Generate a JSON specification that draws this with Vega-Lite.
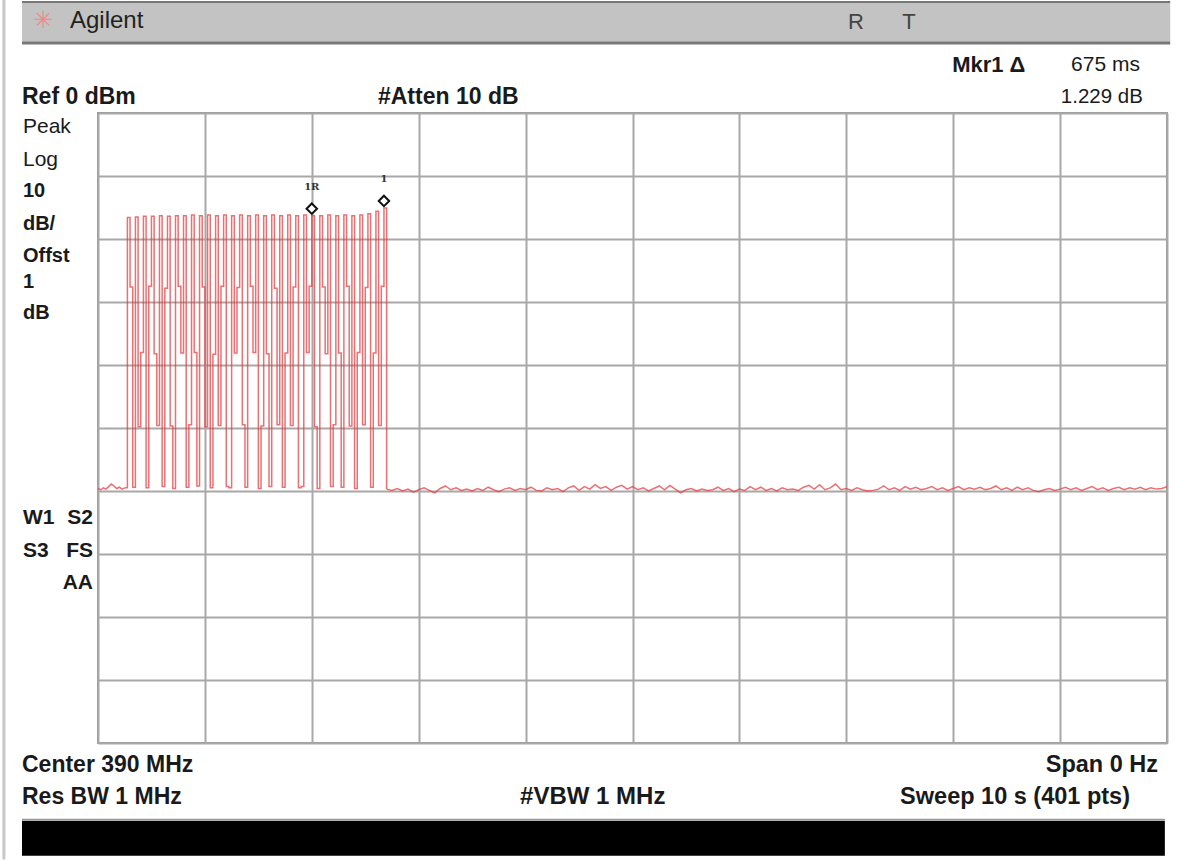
{
"$schema": "https://vega.github.io/schema/vega-lite/v6.json",
"width": 1069, "height": 630,
"autosize": {"type": "none"},
"padding": {"left": 98, "top": 113, "right": 17, "bottom": 118},
"background": "white",
"config": {"view": {"stroke": "#9a9a9a", "strokeWidth": 2}, "text": {"font": "Liberation Sans", "fontSize": 22.5, "fontWeight": "bold", "color": "#1a1a1a", "baseline": "middle"}},
"datasets": {
"trace": [
{"t":0.0,"dBm":-59.6},{"t":0.025,"dBm":-59.8},{"t":0.05,"dBm":-59.5},{"t":0.075,"dBm":-59.7},{"t":0.1,"dBm":-59.3},{"t":0.125,"dBm":-58.9},{"t":0.15,"dBm":-59.2},{"t":0.175,"dBm":-59.6},{"t":0.2,"dBm":-59.4},{"t":0.225,"dBm":-59.7},{"t":0.25,"dBm":-59.5},
{"t":0.275,"dBm":-16.6},{"t":0.3,"dBm":-27.6},{"t":0.325,"dBm":-59.4},
{"t":0.35,"dBm":-16.5},{"t":0.375,"dBm":-49.8},{"t":0.4,"dBm":-38.0},
{"t":0.425,"dBm":-16.4},{"t":0.45,"dBm":-59.5},{"t":0.475,"dBm":-27.5},
{"t":0.5,"dBm":-16.4},{"t":0.525,"dBm":-38.2},{"t":0.55,"dBm":-49.6},
{"t":0.575,"dBm":-16.3},{"t":0.6,"dBm":-59.3},{"t":0.625,"dBm":-27.8},
{"t":0.65,"dBm":-16.4},{"t":0.675,"dBm":-49.7},{"t":0.7,"dBm":-59.6},
{"t":0.725,"dBm":-16.3},{"t":0.75,"dBm":-27.5},{"t":0.775,"dBm":-38.1},
{"t":0.8,"dBm":-16.3},{"t":0.825,"dBm":-59.4},{"t":0.85,"dBm":-49.5},
{"t":0.875,"dBm":-16.2},{"t":0.9,"dBm":-38.0},{"t":0.925,"dBm":-59.2},
{"t":0.95,"dBm":-16.3},{"t":0.975,"dBm":-27.6},{"t":1.0,"dBm":-49.8},
{"t":1.025,"dBm":-16.2},{"t":1.05,"dBm":-59.5},{"t":1.075,"dBm":-38.3},
{"t":1.1,"dBm":-16.3},{"t":1.125,"dBm":-49.6},{"t":1.15,"dBm":-27.5},
{"t":1.175,"dBm":-16.2},{"t":1.2,"dBm":-59.3},{"t":1.225,"dBm":-59.5},
{"t":1.25,"dBm":-16.3},{"t":1.275,"dBm":-38.1},{"t":1.3,"dBm":-27.7},
{"t":1.325,"dBm":-16.2},{"t":1.35,"dBm":-49.5},{"t":1.375,"dBm":-59.4},
{"t":1.4,"dBm":-16.3},{"t":1.425,"dBm":-27.5},{"t":1.45,"dBm":-38.0},
{"t":1.475,"dBm":-16.2},{"t":1.5,"dBm":-59.6},{"t":1.525,"dBm":-49.7},
{"t":1.55,"dBm":-16.3},{"t":1.575,"dBm":-38.2},{"t":1.6,"dBm":-59.3},
{"t":1.625,"dBm":-16.2},{"t":1.65,"dBm":-27.8},{"t":1.675,"dBm":-49.5},
{"t":1.7,"dBm":-16.3},{"t":1.725,"dBm":-59.4},{"t":1.75,"dBm":-38.1},
{"t":1.775,"dBm":-16.2},{"t":1.8,"dBm":-49.6},{"t":1.825,"dBm":-27.6},
{"t":1.85,"dBm":-16.3},{"t":1.875,"dBm":-59.5},{"t":1.9,"dBm":-59.3},
{"t":1.925,"dBm":-16.2},{"t":1.95,"dBm":-38.0},{"t":1.975,"dBm":-27.5},
{"t":2.0,"dBm":-16.3},{"t":2.025,"dBm":-49.8},{"t":2.05,"dBm":-59.6},
{"t":2.075,"dBm":-16.3},{"t":2.1,"dBm":-27.6},{"t":2.125,"dBm":-38.2},
{"t":2.15,"dBm":-16.2},{"t":2.175,"dBm":-59.3},{"t":2.2,"dBm":-49.5},
{"t":2.225,"dBm":-16.3},{"t":2.25,"dBm":-38.1},{"t":2.275,"dBm":-59.4},
{"t":2.3,"dBm":-16.2},{"t":2.325,"dBm":-27.5},{"t":2.35,"dBm":-49.7},
{"t":2.375,"dBm":-16.3},{"t":2.4,"dBm":-59.6},{"t":2.425,"dBm":-38.0},
{"t":2.45,"dBm":-16.2},{"t":2.475,"dBm":-49.5},{"t":2.5,"dBm":-27.7},
{"t":2.525,"dBm":-16.0},{"t":2.55,"dBm":-59.4},{"t":2.575,"dBm":-38.1},
{"t":2.6,"dBm":-15.6},{"t":2.625,"dBm":-49.6},{"t":2.65,"dBm":-27.5},
{"t":2.675,"dBm":-15.07},{"t":2.7,"dBm":-59.7},
{"t":2.75,"dBm":-59.9},{"t":2.8,"dBm":-59.6},{"t":2.85,"dBm":-60.0},{"t":2.9,"dBm":-59.7},{"t":2.95,"dBm":-60.2},{"t":3.0,"dBm":-59.8},{"t":3.05,"dBm":-59.5},{"t":3.1,"dBm":-59.9},{"t":3.15,"dBm":-60.3},{"t":3.2,"dBm":-59.6},{"t":3.25,"dBm":-59.2},{"t":3.3,"dBm":-59.8},{"t":3.35,"dBm":-59.5},{"t":3.4,"dBm":-59.9},{"t":3.45,"dBm":-59.7},{"t":3.5,"dBm":-60.0},{"t":3.55,"dBm":-59.6},{"t":3.6,"dBm":-59.9},{"t":3.65,"dBm":-59.4},{"t":3.7,"dBm":-59.8},{"t":3.75,"dBm":-60.1},{"t":3.8,"dBm":-59.7},{"t":3.85,"dBm":-59.5},{"t":3.9,"dBm":-59.9},{"t":3.95,"dBm":-59.6},{"t":4.0,"dBm":-59.8},{"t":4.05,"dBm":-59.4},{"t":4.1,"dBm":-59.9},{"t":4.15,"dBm":-60.0},{"t":4.2,"dBm":-59.5},{"t":4.25,"dBm":-59.8},{"t":4.3,"dBm":-59.6},{"t":4.35,"dBm":-60.1},{"t":4.4,"dBm":-59.5},{"t":4.45,"dBm":-59.2},{"t":4.5,"dBm":-59.9},{"t":4.55,"dBm":-59.3},{"t":4.6,"dBm":-59.7},{"t":4.65,"dBm":-59.0},{"t":4.7,"dBm":-59.6},{"t":4.75,"dBm":-59.3},{"t":4.8,"dBm":-59.9},{"t":4.85,"dBm":-59.4},{"t":4.9,"dBm":-59.1},{"t":4.95,"dBm":-59.7},{"t":5.0,"dBm":-59.3},{"t":5.05,"dBm":-59.8},{"t":5.1,"dBm":-59.5},{"t":5.15,"dBm":-60.0},{"t":5.2,"dBm":-59.6},{"t":5.25,"dBm":-59.2},{"t":5.3,"dBm":-59.8},{"t":5.35,"dBm":-59.1},{"t":5.4,"dBm":-59.7},{"t":5.45,"dBm":-60.3},{"t":5.5,"dBm":-59.8},{"t":5.55,"dBm":-59.6},{"t":5.6,"dBm":-60.0},{"t":5.65,"dBm":-59.7},{"t":5.7,"dBm":-59.9},{"t":5.75,"dBm":-59.8},{"t":5.8,"dBm":-59.4},{"t":5.85,"dBm":-59.9},{"t":5.9,"dBm":-59.6},{"t":5.95,"dBm":-60.1},{"t":6.0,"dBm":-59.7},{"t":6.05,"dBm":-59.9},{"t":6.1,"dBm":-59.3},{"t":6.15,"dBm":-59.8},{"t":6.2,"dBm":-59.4},{"t":6.25,"dBm":-59.9},{"t":6.3,"dBm":-59.6},{"t":6.35,"dBm":-60.0},{"t":6.4,"dBm":-59.5},{"t":6.45,"dBm":-59.8},{"t":6.5,"dBm":-59.7},{"t":6.55,"dBm":-59.9},{"t":6.6,"dBm":-59.4},{"t":6.65,"dBm":-59.1},{"t":6.7,"dBm":-59.7},{"t":6.75,"dBm":-59.0},{"t":6.8,"dBm":-59.8},{"t":6.85,"dBm":-59.5},{"t":6.9,"dBm":-58.9},{"t":6.95,"dBm":-59.8},{"t":7.0,"dBm":-59.6},{"t":7.05,"dBm":-59.9},{"t":7.1,"dBm":-59.5},{"t":7.15,"dBm":-59.8},{"t":7.2,"dBm":-60.0},{"t":7.25,"dBm":-59.9},{"t":7.3,"dBm":-59.7},{"t":7.35,"dBm":-59.2},{"t":7.4,"dBm":-59.8},{"t":7.45,"dBm":-59.5},{"t":7.5,"dBm":-59.9},{"t":7.55,"dBm":-59.3},{"t":7.6,"dBm":-59.7},{"t":7.65,"dBm":-59.4},{"t":7.7,"dBm":-59.8},{"t":7.75,"dBm":-59.6},{"t":7.8,"dBm":-59.3},{"t":7.85,"dBm":-59.8},{"t":7.9,"dBm":-59.5},{"t":7.95,"dBm":-59.9},{"t":8.0,"dBm":-59.6},{"t":8.05,"dBm":-59.3},{"t":8.1,"dBm":-59.8},{"t":8.15,"dBm":-59.5},{"t":8.2,"dBm":-59.7},{"t":8.25,"dBm":-59.4},{"t":8.3,"dBm":-59.8},{"t":8.35,"dBm":-59.6},{"t":8.4,"dBm":-59.2},{"t":8.45,"dBm":-59.8},{"t":8.5,"dBm":-59.5},{"t":8.55,"dBm":-59.9},{"t":8.6,"dBm":-59.4},{"t":8.65,"dBm":-59.8},{"t":8.7,"dBm":-59.5},{"t":8.75,"dBm":-59.9},{"t":8.8,"dBm":-60.1},{"t":8.85,"dBm":-59.8},{"t":8.9,"dBm":-59.6},{"t":8.95,"dBm":-59.9},{"t":9.0,"dBm":-59.7},{"t":9.05,"dBm":-59.4},{"t":9.1,"dBm":-59.8},{"t":9.15,"dBm":-59.5},{"t":9.2,"dBm":-59.9},{"t":9.25,"dBm":-59.6},{"t":9.3,"dBm":-59.3},{"t":9.35,"dBm":-59.8},{"t":9.4,"dBm":-59.5},{"t":9.45,"dBm":-59.9},{"t":9.5,"dBm":-59.6},{"t":9.55,"dBm":-59.4},{"t":9.6,"dBm":-59.8},{"t":9.65,"dBm":-59.5},{"t":9.7,"dBm":-59.7},{"t":9.75,"dBm":-59.4},{"t":9.8,"dBm":-59.8},{"t":9.85,"dBm":-59.5},{"t":9.9,"dBm":-59.7},{"t":9.95,"dBm":-59.6},{"t":10.0,"dBm":-59.3}
],
"markers": [{"t":2.0,"dBm":-16.3,"name":"1R"},{"t":2.675,"dBm":-15.07,"name":"1"}]
},
"layer": [
{"data": {"name": "trace"},
 "transform": [{"filter": "datum.t >= 0.25 && datum.t <= 2.7"}],
 "mark": {"type": "line", "color": "#e8383c", "strokeWidth": 1.5, "opacity": 0.72, "interpolate": "step-after", "clip": true},
 "encoding": {
  "x": {"field": "t", "type": "quantitative", "scale": {"domain": [0, 10], "nice": false, "zero": false},
        "axis": {"values": [0,1,2,3,4,5,6,7,8,9,10], "grid": true, "gridColor": "#a8a8a8", "gridWidth": 2, "labels": false, "ticks": false, "domain": false, "title": null}},
  "y": {"field": "dBm", "type": "quantitative", "scale": {"domain": [-100, 0], "nice": false, "zero": false},
        "axis": {"values": [-100,-90,-80,-70,-60,-50,-40,-30,-20,-10,0], "grid": true, "gridColor": "#a8a8a8", "gridWidth": 2, "labels": false, "ticks": false, "domain": false, "title": null}}
 }},
{"data": {"name": "trace"},
 "transform": [{"filter": "datum.t <= 0.25"}],
 "mark": {"type": "line", "color": "#e8383c", "strokeWidth": 1.5, "opacity": 0.72, "clip": true},
 "encoding": {"x": {"field": "t", "type": "quantitative"}, "y": {"field": "dBm", "type": "quantitative"}}},
{"data": {"name": "trace"},
 "transform": [{"filter": "datum.t >= 2.7"}],
 "mark": {"type": "line", "color": "#e8383c", "strokeWidth": 1.5, "opacity": 0.72, "clip": true},
 "encoding": {"x": {"field": "t", "type": "quantitative"}, "y": {"field": "dBm", "type": "quantitative"}}},
{"data": {"name": "markers"},
 "mark": {"type": "point", "shape": "diamond", "filled": false, "fill": "white", "stroke": "#111", "strokeWidth": 2, "size": 110, "yOffset": -7, "opacity": 1},
 "encoding": {"x": {"field": "t", "type": "quantitative"}, "y": {"field": "dBm", "type": "quantitative"}}},
{"data": {"name": "markers"},
 "mark": {"type": "text", "fontSize": 10, "fontWeight": "bold", "font": "DejaVu Serif", "dy": -29, "color": "#333"},
 "encoding": {"x": {"field": "t", "type": "quantitative"}, "y": {"field": "dBm", "type": "quantitative"}, "text": {"field": "name"}}},
{"data": {"values": [{}]},
 "mark": {"type": "rect", "color": "#c3c3c3", "clip": false},
 "encoding": {"x": {"datum": -0.711}, "x2": {"datum": 10.03}, "y": {"datum": 17.5}, "y2": {"datum": 11.3}}},
{"data": {"values": [{}]},
 "mark": {"type": "rule", "color": "#777", "strokeWidth": 3, "clip": false},
 "encoding": {"x": {"datum": -0.711}, "x2": {"datum": 10.03}, "y": {"datum": 11.1}}},
{"data": {"values": [{}]},
 "mark": {"type": "rule", "color": "#777", "strokeWidth": 2, "clip": false},
 "encoding": {"x": {"datum": -0.711}, "x2": {"datum": 10.03}, "y": {"datum": 17.6}}},
{"data": {"values": [{}]},
 "mark": {"type": "rect", "color": "#000", "clip": false},
 "encoding": {"x": {"datum": -0.711}, "x2": {"datum": 9.98}, "y": {"datum": -112.4}, "y2": {"datum": -117.9}}},
{"data": {"values": [{}]},
 "mark": {"type": "rule", "color": "#999", "strokeWidth": 2, "clip": false},
 "encoding": {"x": {"datum": -0.711}, "x2": {"datum": 9.98}, "y": {"datum": -112.2}}},
{"data": {"values": [{}]},
 "mark": {"type": "rule", "color": "#c8c8c8", "strokeWidth": 3, "clip": false},
 "encoding": {"x": {"datum": -0.88}, "y": {"datum": 18.5}, "y2": {"datum": -118.5}}},
{"data": {"values": [{}]}, "mark": {"type": "text", "align": "center", "fontSize": 24, "fontWeight": "normal", "font": "DejaVu Sans", "color": "#f08a8a"},
 "encoding": {"x": {"datum": -0.514}, "y": {"datum": 14.6}, "text": {"value": "✳"}}},
{"data": {"values": [{}]}, "mark": {"type": "text", "align": "left", "fontSize": 24, "fontWeight": "normal", "color": "#222"},
 "encoding": {"x": {"datum": -0.262}, "y": {"datum": 14.6}, "text": {"value": "Agilent"}}},
{"data": {"values": [{}]}, "mark": {"type": "text", "align": "center", "fontSize": 22, "fontWeight": "normal", "color": "#444"},
 "encoding": {"x": {"datum": 7.09}, "y": {"datum": 14.4}, "text": {"value": "R"}}},
{"data": {"values": [{}]}, "mark": {"type": "text", "align": "center", "fontSize": 22, "fontWeight": "normal", "color": "#444"},
 "encoding": {"x": {"datum": 7.587}, "y": {"datum": 14.4}, "text": {"value": "T"}}},
{"data": {"values": [{}]}, "mark": {"type": "text", "align": "left", "fontSize": 22},
 "encoding": {"x": {"datum": 7.99}, "y": {"datum": 7.62}, "text": {"value": "Mkr1 Δ"}}},
{"data": {"values": [{}]}, "mark": {"type": "text", "align": "right", "fontSize": 21, "fontWeight": "normal"},
 "encoding": {"x": {"datum": 9.747}, "y": {"datum": 7.62}, "text": {"value": "675 ms"}}},
{"data": {"values": [{}]}, "mark": {"type": "text", "align": "left", "fontSize": 23},
 "encoding": {"x": {"datum": -0.711}, "y": {"datum": 2.54}, "text": {"value": "Ref 0 dBm"}}},
{"data": {"values": [{}]}, "mark": {"type": "text", "align": "left", "fontSize": 23},
 "encoding": {"x": {"datum": 2.619}, "y": {"datum": 2.54}, "text": {"value": "#Atten 10 dB"}}},
{"data": {"values": [{}]}, "mark": {"type": "text", "align": "right", "fontWeight": "normal", "fontSize": 20.5},
 "encoding": {"x": {"datum": 9.775}, "y": {"datum": 2.54}, "text": {"value": "1.229 dB"}}},
{"data": {"values": [{}]}, "mark": {"type": "text", "align": "left", "fontSize": 21, "fontWeight": "normal"},
 "encoding": {"x": {"datum": -0.702}, "y": {"datum": -2.22}, "text": {"value": "Peak"}}},
{"data": {"values": [{}]}, "mark": {"type": "text", "align": "left", "fontSize": 21, "fontWeight": "normal"},
 "encoding": {"x": {"datum": -0.702}, "y": {"datum": -7.46}, "text": {"value": "Log"}}},
{"data": {"values": [{}]}, "mark": {"type": "text", "align": "left", "fontSize": 20},
 "encoding": {"x": {"datum": -0.702}, "y": {"datum": -12.38}, "text": {"value": "10"}}},
{"data": {"values": [{}]}, "mark": {"type": "text", "align": "left", "fontSize": 20},
 "encoding": {"x": {"datum": -0.702}, "y": {"datum": -17.62}, "text": {"value": "dB/"}}},
{"data": {"values": [{}]}, "mark": {"type": "text", "align": "left", "fontSize": 20},
 "encoding": {"x": {"datum": -0.702}, "y": {"datum": -22.7}, "text": {"value": "Offst"}}},
{"data": {"values": [{}]}, "mark": {"type": "text", "align": "left", "fontSize": 20},
 "encoding": {"x": {"datum": -0.702}, "y": {"datum": -26.83}, "text": {"value": "1"}}},
{"data": {"values": [{}]}, "mark": {"type": "text", "align": "left", "fontSize": 20},
 "encoding": {"x": {"datum": -0.702}, "y": {"datum": -31.75}, "text": {"value": "dB"}}},
{"data": {"values": [{}]}, "mark": {"type": "text", "align": "left", "fontSize": 21},
 "encoding": {"x": {"datum": -0.702}, "y": {"datum": -64.29}, "text": {"value": "W1"}}},
{"data": {"values": [{}]}, "mark": {"type": "text", "align": "right", "fontSize": 21},
 "encoding": {"x": {"datum": -0.047}, "y": {"datum": -64.29}, "text": {"value": "S2"}}},
{"data": {"values": [{}]}, "mark": {"type": "text", "align": "left", "fontSize": 21},
 "encoding": {"x": {"datum": -0.702}, "y": {"datum": -69.52}, "text": {"value": "S3"}}},
{"data": {"values": [{}]}, "mark": {"type": "text", "align": "right", "fontSize": 21},
 "encoding": {"x": {"datum": -0.047}, "y": {"datum": -69.52}, "text": {"value": "FS"}}},
{"data": {"values": [{}]}, "mark": {"type": "text", "align": "right", "fontSize": 21},
 "encoding": {"x": {"datum": -0.047}, "y": {"datum": -74.6}, "text": {"value": "AA"}}},
{"data": {"values": [{}]}, "mark": {"type": "text", "align": "left", "fontSize": 23},
 "encoding": {"x": {"datum": -0.711}, "y": {"datum": -103.49}, "text": {"value": "Center 390 MHz"}}},
{"data": {"values": [{}]}, "mark": {"type": "text", "align": "right", "fontSize": 23.5},
 "encoding": {"x": {"datum": 9.916}, "y": {"datum": -103.49}, "text": {"value": "Span 0 Hz"}}},
{"data": {"values": [{}]}, "mark": {"type": "text", "align": "left", "fontSize": 23},
 "encoding": {"x": {"datum": -0.711}, "y": {"datum": -108.57}, "text": {"value": "Res BW 1 MHz"}}},
{"data": {"values": [{}]}, "mark": {"type": "text", "align": "left", "fontSize": 24},
 "encoding": {"x": {"datum": 3.948}, "y": {"datum": -108.57}, "text": {"value": "#VBW 1 MHz"}}},
{"data": {"values": [{}]}, "mark": {"type": "text", "align": "right", "fontSize": 23.5},
 "encoding": {"x": {"datum": 9.654}, "y": {"datum": -108.57}, "text": {"value": "Sweep 10 s (401 pts)"}}}
]
}
